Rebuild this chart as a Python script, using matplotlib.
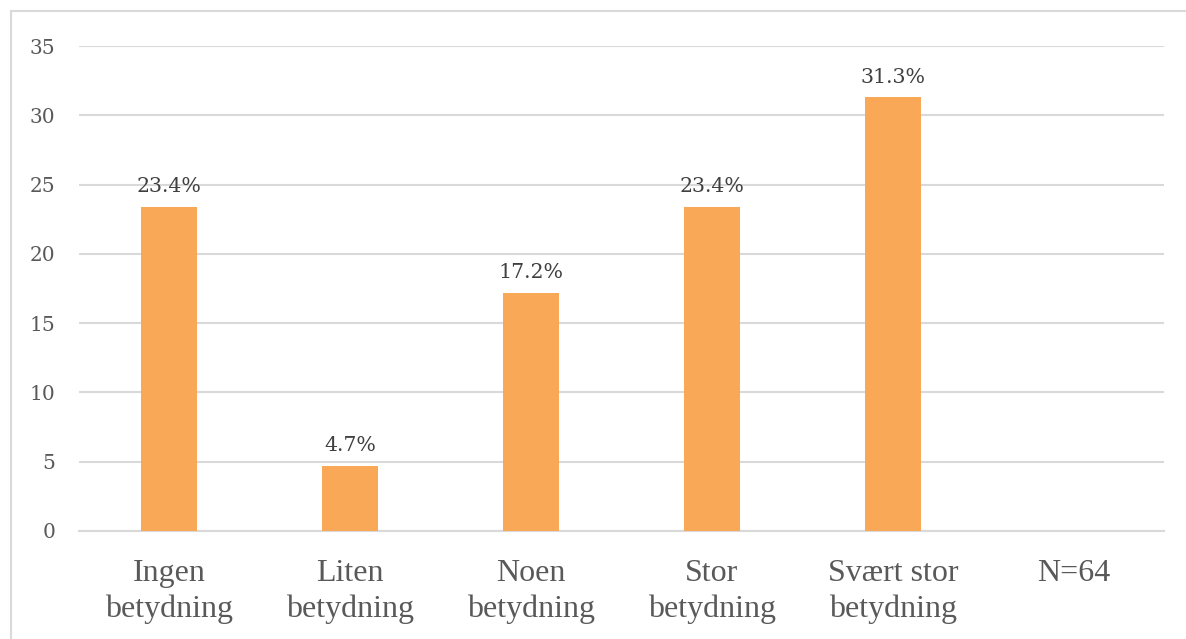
import matplotlib.pyplot as plt
from matplotlib.patches import Rectangle

# Данные
categories = ['Ingen\nbetydning', 'Liten\nbetydning', 'Noen\nbetydning',
              'Stor\nbetydning', 'Svært stor\nbetydning', 'N=64']
values = [23.4, 4.7, 17.2, 23.4, 31.3]
value_labels = ['23.4%', '4.7%', '17.2%', '23.4%', '31.3%']
y_ticks = [0, 5, 10, 15, 20, 25, 30, 35]

W, H = 1186, 639
text_color = '#595959'
bar_color = '#F9A857'
grid_color = '#d9d9d9'

fig = plt.figure(figsize=(W / 100, H / 100), dpi=100)
ax = fig.add_axes([79 / W, 1 - 531 / H, (1164 - 79) / W, (531 - 46) / H])

x = list(range(len(categories)))
bars = ax.bar(x[:len(values)], values, width=0.31, color=bar_color, zorder=3)

for bar, lab in zip(bars, value_labels):
    ax.annotate(lab, (bar.get_x() + bar.get_width() / 2, bar.get_height()),
                xytext=(0, 7.5), textcoords='offset points', ha='center', va='bottom',
                fontsize=14.8, family='DejaVu Serif', color='#404040')

ax.set_xlim(-0.5, len(categories) - 0.5)
ax.set_ylim(0, 35)
ax.set_yticks(y_ticks)
ax.set_yticklabels([str(t) for t in y_ticks], family='DejaVu Serif', fontsize=14.5, color=text_color)
ax.set_xticks(x)
ax.set_xticklabels(categories, family='Liberation Serif', fontsize=23, color=text_color,
                   linespacing=1.3)
ax.tick_params(axis='y', length=0, pad=17)
ax.tick_params(axis='x', length=0, pad=20)

ax.grid(axis='y', color=grid_color, linewidth=1.5, zorder=0)
for s in ['top', 'right', 'left']:
    ax.spines[s].set_visible(False)
ax.spines['bottom'].set_color(grid_color)
ax.spines['bottom'].set_linewidth(1.5)

# Рамка диаграммы
fig.add_artist(Rectangle((11 / W, -0.1), 1.2, 1 - 11 / H + 0.1, transform=fig.transFigure,
                         fill=False, edgecolor=grid_color, linewidth=1.5))

fig.savefig('out.png', dpi=100)
